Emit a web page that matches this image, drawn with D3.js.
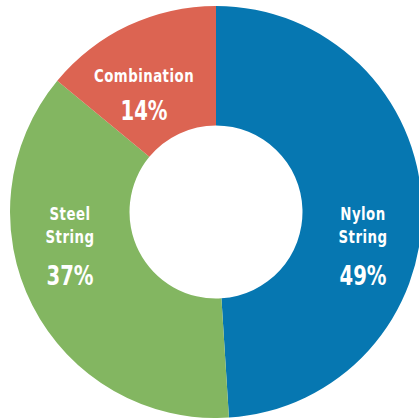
<!DOCTYPE html>
<html>
<head>
<meta charset="utf-8">
<script src="https://cdn.jsdelivr.net/npm/d3@7"></script>
<style>
  html, body { margin: 0; padding: 0; background: #ffffff; }
  svg { display: block; }
  text { font-family: "DejaVu Sans Condensed", "DejaVu Sans", sans-serif; font-stretch: condensed; fill: #ffffff; }
</style>
</head>
<body>
<svg id="chart" width="419" height="418"></svg>
<script>
// ---- data ----
const categories = ["Nylon String", "Steel String", "Combination"];
const labelLines = [["Nylon", "String"], ["Steel", "String"], ["Combination"]];
const values = [49, 37, 14];
const colors = ["#0677b1", "#83b661", "#dc6452"];

// ---- layout ----
const cx = 216, cy = 212, outerR = 206, innerR = 86.5;
// label anchor (x centre, baseline of first line) per slice
const labelPos = [[363, 220], [70, 220], [144, 82]];

const svg = d3.select("#chart");
const g = svg.append("g").attr("transform", `translate(${cx},${cy})`);

const pie = d3.pie().sort(null).value(d => d)(values);
const arc = d3.arc().innerRadius(innerR).outerRadius(outerR);

g.selectAll("path.slice")
  .data(pie)
  .join("path")
  .attr("class", "slice")
  .attr("d", arc)
  .attr("fill", (d, i) => colors[i]);

const labels = svg.selectAll("g.label")
  .data(pie)
  .join("g")
  .attr("class", "label")
  .attr("transform", (d, i) => `translate(${labelPos[i][0]},${labelPos[i][1]})`);

labels.each(function (d, i) {
  const sel = d3.select(this);
  const lines = labelLines[i];
  lines.forEach((ln, k) => {
    sel.append("text")
      .attr("text-anchor", "middle")
      .attr("transform", `translate(0,${k * 23}) scale(0.8,1)`)
      .attr("font-size", 18.5)
      .attr("font-weight", "bold")
      .attr("letter-spacing", 0.6)
      .text(ln);
  });
  const pctY = lines.length === 1 ? 38 : 65;
  sel.append("text")
    .attr("text-anchor", "middle")
    .attr("transform", `translate(0,${pctY}) scale(0.84,1)`)
    .attr("font-size", 26)
    .attr("font-weight", "bold")
    .text(values[i] + "%");
});
</script>
</body>
</html>
